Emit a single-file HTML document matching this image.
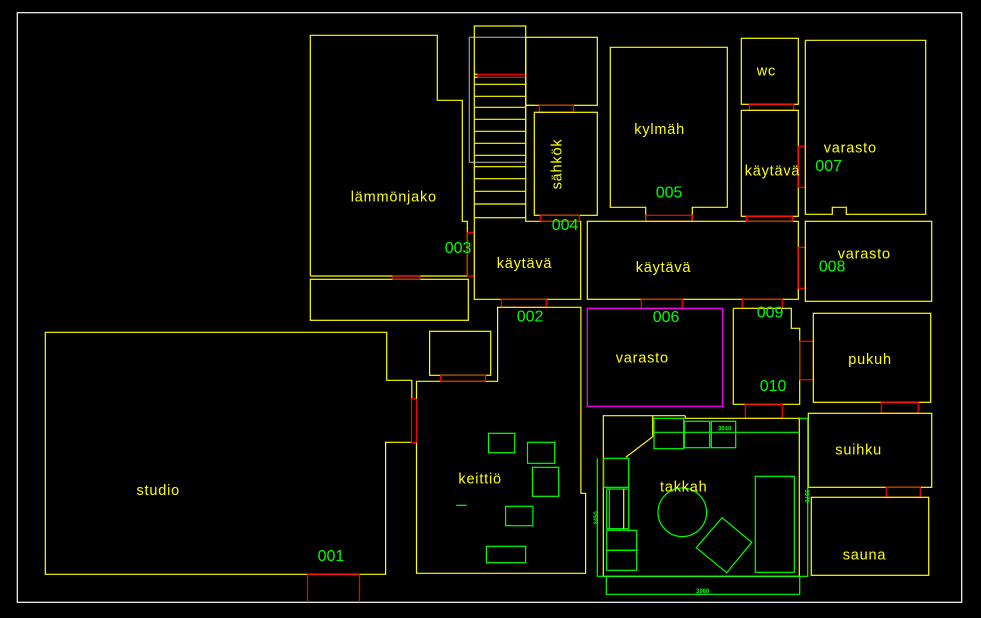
<!DOCTYPE html>
<html><head><meta charset="utf-8"><style>
html,body{margin:0;padding:0;background:#000;}
svg{display:block;}
text{font-family:"Liberation Sans",sans-serif;}
.y{fill:none;stroke:#ffff00;stroke-width:1.2}
.r{fill:none;stroke:#ff0000;stroke-width:1.2}
.g{fill:none;stroke:#00ff00;stroke-width:1.2}
.gr{fill:none;stroke:#999;stroke-width:1.2}
.t{fill:#ffff00;font-size:14.5px;letter-spacing:0.8px}
.n{fill:#00ff00;font-size:16px}
.d{fill:#00ff00;font-size:6px;font-weight:bold}
</style></head><body>
<svg width="981" height="618" viewBox="0 0 981 618" xmlns="http://www.w3.org/2000/svg">
<rect x="0" y="0" width="981" height="618" fill="#000"/>
<rect x="17.3" y="12.7" width="944.4" height="589.6" fill="none" stroke="#fff" stroke-width="1.2"/>

<polyline class="y" points="310.3,276 310.3,35.3 437.3,35.3 437.3,100.3 462.3,100.3 462.3,221.3 467.3,221.3 467.3,276"/>
<line class="y" x1="310.3" y1="276" x2="468.3" y2="276"/>
<rect class="y" x="310.3" y="279.3" width="158" height="41"/>
<rect class="r" x="393" y="276" width="26.7" height="3.3"/>
<rect class="r" x="467.3" y="232.3" width="7" height="43.7"/>

<rect class="gr" x="469.3" y="37.3" width="56.4" height="125"/>
<polyline class="gr" points="525.7,162.3 525.7,105.3 534.3,105.3"/>
<rect class="y" x="474.3" y="26" width="51.4" height="191.7"/>
<g class="y">
<line x1="474.3" y1="84.3" x2="525.7" y2="84.3"/><line x1="474.3" y1="96.3" x2="525.7" y2="96.3"/>
<line x1="474.3" y1="107.3" x2="525.7" y2="107.3"/><line x1="474.3" y1="119.3" x2="525.7" y2="119.3"/>
<line x1="474.3" y1="131.3" x2="525.7" y2="131.3"/><line x1="474.3" y1="143.3" x2="525.7" y2="143.3"/>
<line x1="474.3" y1="155.3" x2="525.7" y2="155.3"/><line x1="474.3" y1="166.7" x2="525.7" y2="166.7"/>
<line x1="474.3" y1="178.7" x2="525.7" y2="178.7"/><line x1="474.3" y1="191.3" x2="525.7" y2="191.3"/>
<line x1="474.3" y1="204" x2="525.7" y2="204"/><line x1="474.3" y1="74.3" x2="478" y2="74.3"/>
<line x1="474.3" y1="77.3" x2="478" y2="77.3"/>
</g>
<rect class="r" x="478" y="74.3" width="47.7" height="3"/>

<polyline class="y" points="474.3,217.7 474.3,299.3 580.7,299.3 580.7,221.3 525.7,221.3 525.7,217.7"/>
<rect class="y" x="525.7" y="37.3" width="71.6" height="68"/>
<rect class="r" x="539.3" y="105.3" width="34" height="7"/>
<rect class="y" x="534.3" y="112.3" width="63" height="103"/>
<rect class="r" x="540.3" y="215.3" width="39" height="6"/>
<rect class="r" x="501.3" y="299.3" width="45" height="8"/>

<polyline class="y" points="411.8,398.7 411.8,380.3 386.7,380.3 386.7,332.3 45.3,332.3 45.3,574.3 385.6,574.3 385.6,442.3 411.8,442.3"/>
<rect class="r" x="411.5" y="398.7" width="5" height="44"/>
<polyline class="r" points="307.5,602.3 307.5,574.3 359.5,574.3 359.5,602.3"/>

<polyline class="y" points="416.5,442.7 416.5,573.3 585.6,573.3 585.6,493.3 580.9,493.3 580.9,307.3 497.6,307.3 497.6,381.3 416.5,381.3 416.5,398.7"/>
<rect class="y" x="429.6" y="331.3" width="61.1" height="44"/>
<rect class="r" x="440.5" y="375.5" width="45.1" height="5.8"/>
<rect class="g" x="488.5" y="433.3" width="26.2" height="19.4"/>
<rect class="g" x="527.5" y="442.3" width="27.2" height="21"/>
<rect class="g" x="532.5" y="467.3" width="26.2" height="29"/>
<rect class="g" x="505.6" y="506.3" width="27.3" height="19.4"/>
<rect class="g" x="486.4" y="546.3" width="39.2" height="16.4"/>
<line class="g" x1="456.2" y1="505.3" x2="466.7" y2="505.3"/>

<polyline class="y" points="645.7,221.3 645.7,207.3 610.3,207.3 610.3,47.3 727.3,47.3 727.3,207.3 692.3,207.3 692.3,221.3"/>
<rect class="r" x="645.7" y="215.3" width="46.6" height="6"/>
<rect class="y" x="587.3" y="221.3" width="211" height="78"/>
<rect class="r" x="641.3" y="299.3" width="41" height="9"/>
<rect class="r" x="742.3" y="299.3" width="40" height="9"/>
<rect class="r" x="798.3" y="247.3" width="7" height="41"/>

<rect class="y" x="741.3" y="38.3" width="57" height="66"/>
<rect class="r" x="749.3" y="104.3" width="44.4" height="6"/>
<rect class="y" x="741.3" y="110.3" width="57" height="106"/>
<rect class="r" x="746.3" y="216.3" width="46" height="5"/>
<rect class="r" x="798.3" y="146.3" width="7" height="41"/>

<polyline class="y" points="805.3,40.3 925.7,40.3 925.7,214.3 846.3,214.3 846.3,207.3 832.3,207.3 832.3,214.3 805.3,214.3 805.3,40.3"/>
<rect class="y" x="805.3" y="221.3" width="126.4" height="80"/>

<rect x="587.3" y="308.3" width="135.4" height="98" fill="none" stroke="#ff00ff" stroke-width="1.2"/>

<polyline class="y" points="733.3,308.3 791.3,308.3 791.3,328.3 799.7,328.3 799.7,404.3 733.3,404.3 733.3,308.3"/>
<rect class="r" x="799.7" y="341.3" width="13.6" height="38.4"/>
<rect class="r" x="745.3" y="404.3" width="37" height="14"/>

<rect class="y" x="813.3" y="313.3" width="117.4" height="89"/>
<rect class="r" x="881.3" y="402.3" width="37" height="11"/>
<rect class="y" x="808.3" y="413.3" width="123.4" height="74"/>
<rect class="r" x="886.3" y="487.3" width="34" height="10"/>
<rect class="y" x="811.3" y="497.3" width="117.4" height="78"/>

<polyline class="y" points="685.3,415.7 603.3,415.7 603.3,576.3 799.3,576.3 799.3,418.3 685.3,418.3 685.3,415.7"/>
<polyline class="g" points="597.3,458.3 597.3,576.3 807.7,576.3 807.7,418.3 799.3,418.3"/>
<line class="g" x1="652.7" y1="432.3" x2="799.3" y2="432.3"/>
<polyline class="g" points="606.3,576.3 606.3,594.3 799.7,594.3 799.7,576.3"/>
<rect class="g" x="654" y="418.3" width="29.7" height="30.4"/>
<rect class="g" x="684.3" y="421.3" width="25.4" height="26.4"/>
<rect class="g" x="711.3" y="421.3" width="24.4" height="26.4"/>
<line class="y" x1="625.7" y1="457.3" x2="652.7" y2="436.7"/>
<line class="y" x1="652.7" y1="415.7" x2="652.7" y2="436.7"/>
<rect class="g" x="603.7" y="458.3" width="25" height="29"/>
<rect class="g" x="606.7" y="489" width="22" height="39.7"/>
<line class="g" x1="609.3" y1="489" x2="609.3" y2="528.7"/>
<line class="y" x1="623.7" y1="489" x2="623.7" y2="528.7"/>
<rect class="g" x="606.7" y="530.3" width="30" height="20"/>
<rect class="g" x="606.7" y="550.3" width="30" height="20"/>
<circle class="g" cx="682.3" cy="512.3" r="24.3"/>
<polygon class="g" points="722,517.7 751.7,542.3 726.7,572.7 696.3,547.7"/>
<rect class="g" x="755.3" y="476.3" width="39" height="96"/>
<text class="d" x="718" y="430.5">3040</text>
<text class="d" x="696" y="593">3960</text>
<text class="d" transform="translate(598,518) rotate(-90)" text-anchor="middle">2450</text>
<text class="d" transform="translate(805,496) rotate(90)" text-anchor="middle">3370</text>

<text class="t" x="350.7" y="201.7">lämmönjako</text>
<text class="t" transform="translate(561.5,164) rotate(-90)" text-anchor="middle">sähkök</text>
<text class="t" x="496.7" y="268">käytävä</text>
<text class="t" x="136.5" y="495">studio</text>
<text class="t" x="458.4" y="483.7">keittiö</text>
<text class="t" x="634.3" y="134">kylmäh</text>
<text class="t" x="756.7" y="75.7">wc</text>
<text class="t" x="744.7" y="175.7">käytävä</text>
<text class="t" x="823.7" y="152.7">varasto</text>
<text class="t" x="635.7" y="272">käytävä</text>
<text class="t" x="837.7" y="258.7">varasto</text>
<text class="t" x="615.7" y="362.3">varasto</text>
<text class="t" x="848.3" y="364">pukuh</text>
<text class="t" x="835.3" y="454.7">suihku</text>
<text class="t" x="842.7" y="559.3">sauna</text>
<text class="t" x="660" y="491.7">takkah</text>

<text class="n" x="444.7" y="253">003</text>
<text class="n" x="551.7" y="230">004</text>
<text class="n" x="516.7" y="321.7">002</text>
<text class="n" x="317.6" y="561">001</text>
<text class="n" x="655.7" y="197.3">005</text>
<text class="n" x="815.3" y="171">007</text>
<text class="n" x="818.7" y="271.3">008</text>
<text class="n" x="652.7" y="322">006</text>
<text class="n" x="756.7" y="317.3">009</text>
<text class="n" x="759.7" y="391">010</text>
</svg>
</body></html>
